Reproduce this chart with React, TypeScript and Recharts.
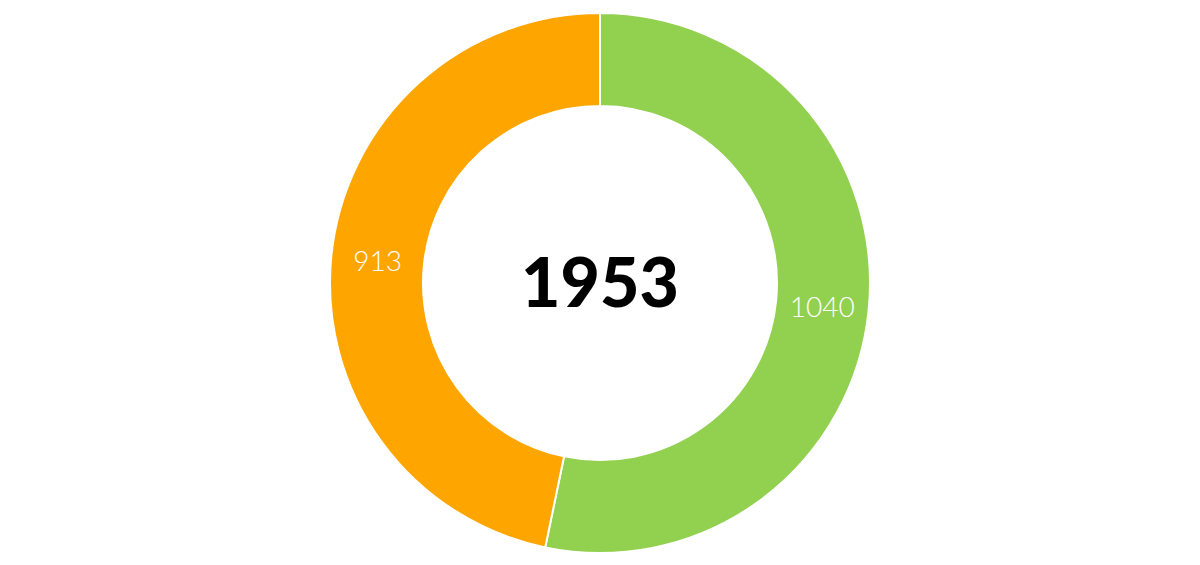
import React from 'react';
import { PieChart, Pie, Cell, Label } from 'recharts';

const names = ['A', 'B'];
const values = [1040, 913];
const colors = ['#92d050', '#ffa500'];
const total = 1953;

const data = names.map((name, i) => ({ name, value: values[i] }));

const RADIAN = Math.PI / 180;

const renderLabel = (props: any) => {
  const { cx, cy, midAngle, innerRadius, outerRadius, value } = props;
  const r = (innerRadius + outerRadius) / 2;
  const x = cx + r * Math.cos(-midAngle * RADIAN);
  const y = cy + r * Math.sin(-midAngle * RADIAN);
  return (
    <text
      x={x}
      y={y}
      fill='#ffffff'
      textAnchor='middle'
      dominantBaseline='central'
      fontFamily='Lato, sans-serif'
      fontWeight={300}
      fontSize={28}
    >
      {value}
    </text>
  );
};

export default function App() {
  return (
    <div style={{ position: 'absolute', left: 0, top: 0, width: 1200, height: 565, background: '#fff' }}>
      <PieChart width={1200} height={565} margin={{ top: 0, right: 0, bottom: 0, left: 0 }}>
        <Pie
          data={data}
          dataKey='value'
          cx={600}
          cy={283}
          innerRadius={177}
          outerRadius={270}
          startAngle={90}
          endAngle={-270}
          stroke='#ffffff'
          strokeWidth={2}
          label={renderLabel}
          labelLine={false}
          isAnimationActive={false}
        >
          {data.map((d, i) => (
            <Cell key={d.name} fill={colors[i]} />
          ))}
          <Label
            value={String(total)}
            position='center'
            fill='#000000'
            style={{ fontFamily: 'Lato, sans-serif', fontWeight: 900, fontSize: 68 }}
          />
        </Pie>
      </PieChart>
    </div>
  );
}
